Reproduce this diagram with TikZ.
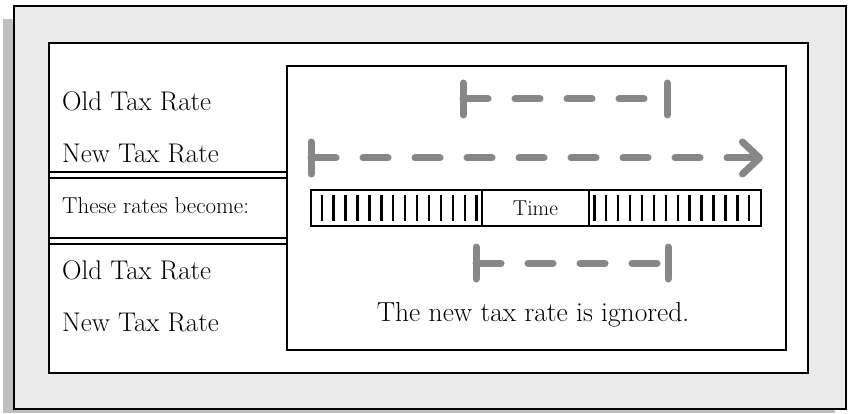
\documentclass[tikz,border=0pt]{standalone}
\usepackage{tikz}
\usetikzlibrary{arrows.meta}
\begin{document}
\begin{tikzpicture}[x=1pt,y=-1pt]
		\tikzstyle{frame} = [draw=black,line width=2pt]
		\tikzstyle{rate} = [anchor=base west,inner sep=0pt,font=\fontsize{27}{32}\selectfont]
		\tikzstyle{dashspan} = [draw=black!47,line width=7pt,line cap=round,dash pattern=on 25pt off 27pt]
		\tikzstyle{endmark} = [draw=black!47,line width=7pt,line cap=round]
		\tikzstyle{notch} = [draw=black,line width=2.4pt]
		\useasboundingbox (0,0) rectangle (851,414);
		\fill[black!25] (3,19) rectangle (835,413);
		\filldraw[frame,fill=black!8] (14,6) rectangle (846,409);
		\filldraw[frame,fill=white] (49,43) rectangle (808,373);
		\draw[frame] (287,66) rectangle (786,350);
		\draw[frame] (49,172.5) -- (287,172.5);
		\draw[frame] (49,178) -- (287,178);
		\draw[frame] (49,238) -- (287,238);
		\draw[frame] (49,243.5) -- (287,243.5);
		\node[rate] (old1) at (62,110.7) {Old Tax Rate};
		\node[rate] (new1) at (62,162.7) {New Tax Rate};
		\node[rate,font=\fontsize{23}{27}\selectfont] (become) at (62,214) {These rates become:};
		\node[rate] (old2) at (62,279) {Old Tax Rate};
		\node[rate] (new2) at (62,331) {New Tax Rate};
		\draw[frame] (311,190) rectangle (761,226);
		\foreach \i in {0,...,13} {
			\draw[notch] ({321.7+11.92*\i},195) -- ({321.7+11.92*\i},221);
			\draw[notch] ({594.3+11.92*\i},195) -- ({594.3+11.92*\i},221);
		}
		\node[draw,line width=2.8pt,fill=white,minimum width=107pt,minimum height=36pt,inner sep=0pt,font=\fontsize{21.5}{25}\selectfont] (time) at (535.5,208) {Time};
		\coordinate (a1) at (463,99);
		\coordinate (a2) at (667,99);
		\coordinate (b1) at (311,158);
		\coordinate (b2) at (763,158);
		\coordinate (c1) at (476,263);
		\coordinate (c2) at (668,263);
		\draw[dashspan] (a1) -- (a2);
		\draw[endmark] (a1) ++(0,-16) -- ++(0,32);
		\draw[endmark] (a2) ++(0,-16) -- ++(0,32);
		\draw[dashspan,-{Straight Barb[length=17pt,width=32pt,round]}] (b1) -- (b2);
		\draw[endmark] (b1) ++(0,-16) -- ++(0,32);
		\draw[dashspan] (c1) -- (c2);
		\draw[endmark] (c1) ++(0,-16) -- ++(0,32);
		\draw[endmark] (c2) ++(0,-16) -- ++(0,32);
		\node[anchor=base,inner sep=0pt,font=\fontsize{27.5}{32}\selectfont] (ignored) at (533,321.7) {The new tax rate is ignored.};
		\end{tikzpicture}
\end{document}
